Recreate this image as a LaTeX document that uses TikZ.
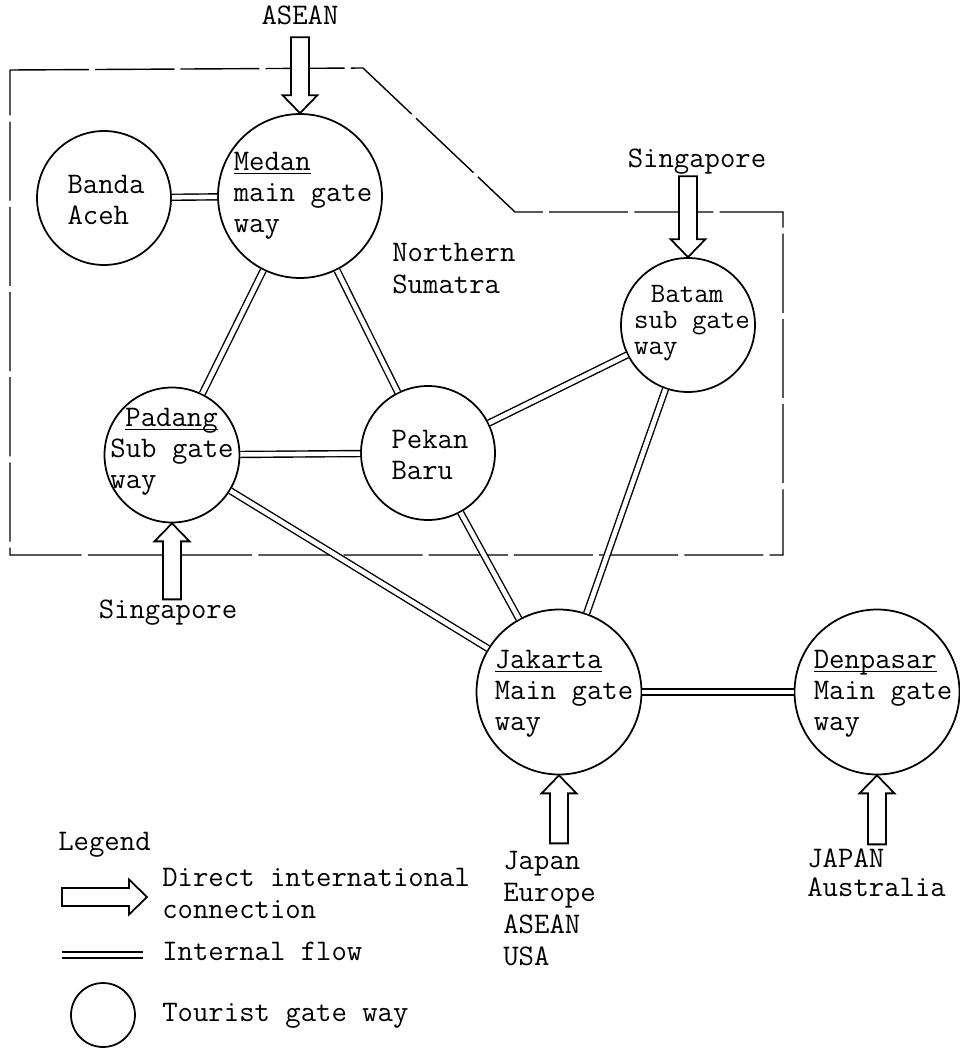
\documentclass[tikz,border=0pt]{standalone}
\newcommand{\gateul}[1]{\underline{\raisebox{0pt}[\height][0pt]{#1}}}
\tikzset{
  gate/.style={draw,circle,line width=1pt,inner sep=0pt,minimum size=#1},
  gatetext/.style={align=left,inner sep=0pt,font=\ttfamily\fontsize{17}{17.6}\selectfont},
  textlbl/.style={align=left,inner sep=0pt,font=\ttfamily\fontsize{17}{18}\selectfont},
  flow/.style={double,double distance=2.6pt,line width=0.8pt},
  region/.style={line width=0.8pt,dash pattern=on 45pt off 3.5pt},
  arrowline/.style={line width=1pt,line join=miter,fill=white},
  pics/gatearrow/.style={code={
    \draw[arrowline] (0,0) -- (-17.5,-18) -- (-9,-18) -- (-9,-#1) -- (9,-#1) -- (9,-18) -- (17.5,-18) -- cycle;
  }}
}
\begin{document}
\begin{tikzpicture}[x=0.02cm,y=-0.02cm]
  \useasboundingbox (0,0) rectangle (960,1048);

  % Northern Sumatra region
  \draw[region] (10,70) -- (363,68) -- (515,212) -- (783,212) -- (783,555) -- (10,555) -- cycle;
  \node[textlbl,anchor=north west] (sumatra) at (392,243) {Northern\\Sumatra};

  % Gate ways
  \node[gate=3.28cm] (medan) at (300,196) {};
  \node[gate=2.68cm] (banda) at (104,198) {};
  \node[gate=2.68cm] (batam) at (688,325) {};
  \node[gate=2.68cm] (pekan) at (428,453) {};
  \node[gate=2.7cm] (padang) at (172,455) {};
  \node[gate=3.3cm] (jakarta) at (559,692) {};
  \node[gate=3.3cm] (denpasar) at (877,692) {};

  \node[gatetext] (medan-txt) at (303,196) {\gateul{Medan}\\main gate\\way};
  \node[gatetext] (banda-txt) at (106,200) {Banda\\Aceh};
  \node[gatetext,font=\ttfamily\fontsize{16}{15}\selectfont] (batam-txt) at (692,323) {\hspace*{0.6em}Batam\\sub gate\\way};
  \node[gatetext] (pekan-txt) at (430,455) {Pekan\\Baru};
  \node[gatetext] (padang-txt) at (172,452) {\hspace*{0.5em}\gateul{Padang}\\Sub gate\\way};
  \node[gatetext] (jakarta-txt) at (564,694) {\gateul{Jakarta}\\Main gate\\way};
  \node[gatetext] (denpasar-txt) at (883,694) {\gateul{Denpasar}\\Main gate\\way};

  % Internal flow
  \draw[flow] (banda) -- (medan);
  \draw[flow] (medan) -- (padang);
  \draw[flow] (medan) -- (pekan);
  \draw[flow] (padang) -- (pekan);
  \draw[flow] (padang) -- (jakarta);
  \draw[flow] (pekan) -- (batam);
  \draw[flow] (pekan) -- (jakarta);
  \draw[flow] (batam) -- (jakarta);
  \draw[flow] (jakarta) -- (denpasar);

  % Direct international connections
  \pic at (medan.north) {gatearrow=76};
  \node[textlbl,anchor=base] (asean) at (300,25) {ASEAN};
  \pic at (batam.north) {gatearrow=81};
  \node[textlbl,anchor=base] (singapore-n) at (697,167) {Singapore};
  \pic[rotate=180] at (padang.south) {gatearrow=76};
  \node[textlbl,anchor=base] (singapore-s) at (168,618) {Singapore};
  \pic[rotate=180] at (jakarta.south) {gatearrow=68};
  \node[textlbl,anchor=north west,font=\ttfamily\fontsize{17}{18.2}\selectfont] (jakarta-src) at (503,851) {Japan\\Europe\\ASEAN\\USA};
  \pic[rotate=180] at (denpasar.south) {gatearrow=69};
  \node[textlbl,anchor=north west,font=\ttfamily\fontsize{17}{17}\selectfont] (denpasar-src) at (807,848) {JAPAN\\Australia};

  % Legend
  \node[textlbl,anchor=base west] (legend) at (58,850) {Legend};
  \pic[rotate=90] at (147,897) {gatearrow=85};
  \node[textlbl,anchor=north west] (legend-arrow) at (162,868) {Direct international\\connection};
  \coordinate (flow-a) at (62,955);
  \coordinate (flow-b) at (143,955);
  \draw[flow] (flow-a) -- (flow-b);
  \node[textlbl,anchor=base west] (legend-flow) at (162,960) {Internal flow};
  \node[gate=1.28cm] (legend-gate) at (103,1015) {};
  \node[textlbl,anchor=base west] (legend-gatetxt) at (162,1021) {Tourist gate way};
\end{tikzpicture}
\end{document}
